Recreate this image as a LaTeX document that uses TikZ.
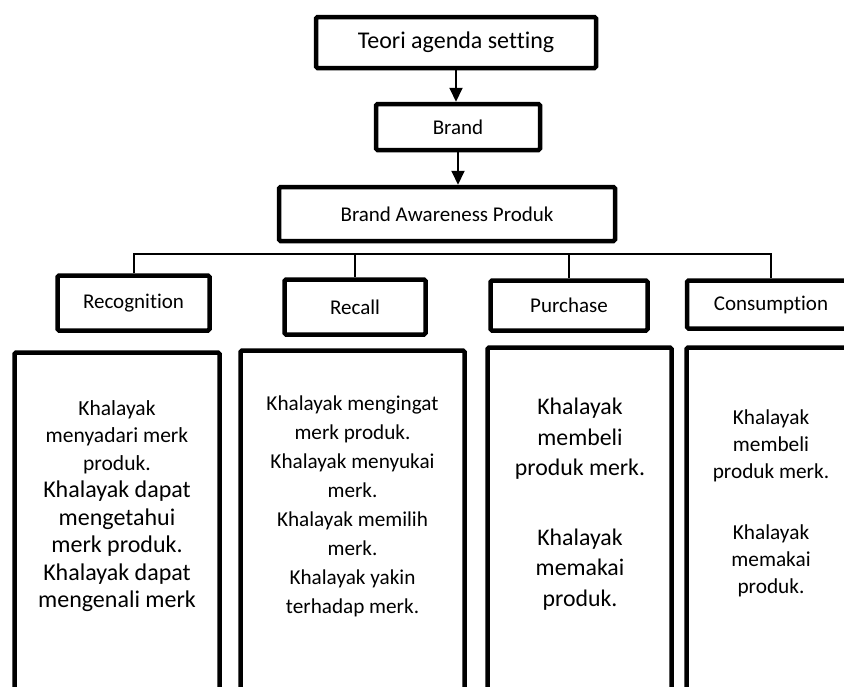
\documentclass[tikz,border=0pt]{standalone}
\usepackage{fontspec}
\setmainfont{Carlito}[Ligatures={NoCommon}]
\usetikzlibrary{arrows.meta,calc}
\newcommand\fsA{\fontsize{21.5}{27.5}\selectfont}
\newcommand\fsB{\fontsize{24}{27.5}\selectfont}
\newcommand\fsC{\fontsize{21.2}{28.9}\selectfont}
\newcommand\fsD{\fontsize{23.8}{30.3}\selectfont}
\newcommand\fsE{\fontsize{21.3}{27}\selectfont}
\begin{document}
\begin{tikzpicture}[x=1pt,y=-1pt,
  box/.style={draw, line width=4.5pt, rounded corners=1.5pt, inner sep=0pt},
  thinline/.style={line width=2pt},
  arr/.style={line width=2pt, -{Triangle[width=13pt,length=14pt]}},
  lbl/.style={font=\fontsize{21}{25}\selectfont},
  body/.style={anchor=north, align=center, inner sep=0pt}
]
\useasboundingbox (0,0) rectangle (844,686);
\clip (0,0) rectangle (844,686);

% top chain
\node[box, minimum width=280pt, minimum height=51pt, font=\fontsize{24}{28}\selectfont] (teori) at (456,42.5) {Teori agenda setting};
\node[box, minimum width=164pt, minimum height=46pt, lbl] (brand) at (458,127) {Brand};
\node[box, minimum width=336pt, minimum height=54pt, lbl] (bap) at (447,214) {Brand Awareness Produk};
\draw[arr] (teori.south) -- (teori.south |- brand.north);
\draw[arr] (brand.south) -- (brand.south |- bap.north);

% second level
\coordinate (bus) at (0,254);
\node[box, minimum width=152pt, minimum height=55pt, lbl] (rec) at (133.5,303) {Recognition};
\node[box, minimum width=141pt, minimum height=55pt, lbl] (recall) at (355,307) {Recall};
\node[box, minimum width=157pt, minimum height=50pt, lbl] (pur) at (569,305.5) {Purchase};
\node[box, minimum width=168pt, minimum height=48pt, lbl] (cons) at (771,304.5) {Consumption};
\draw[thinline] (rec.north) -- (rec.north |- bus) -- (cons.north |- bus) -- (cons.north);
\draw[thinline] (recall.north |- bus) -- (recall.north);
\draw[thinline] (pur.north |- bus) -- (pur.north);

% bottom boxes
\node[box, minimum width=205pt, minimum height=375pt] (d1) at (117,540) {};
\node[box, minimum width=224pt, minimum height=377pt] (d2) at (352.5,539) {};
\node[box, minimum width=184pt, minimum height=380pt] (d3) at (579.5,537.5) {};
\node[box, minimum width=169pt, minimum height=380pt] (d4) at (771,537.5) {};

\node[body, font=\fsB] (t1) at (117,400) {\fsA Khalayak\\\fsA menyadari merk\\\fsA produk.\\\fsB Khalayak dapat\\\fsB mengetahui\\\fsB merk produk.\\\fsB Khalayak dapat\hspace*{0.4em}\\\fsB mengenali merk};
\node[body, font=\fsC] (t2) at (352.5,396) {Khalayak mengingat\\merk produk.\\Khalayak menyukai\\merk.\\Khalayak memilih\\merk.\\Khalayak yakin\\terhadap merk.};
\node[body, font=\fsD] (t3) at (580,398) {Khalayak\\membeli\\produk merk.\\[40pt]Khalayak\\memakai\\produk.};
\node[body, font=\fsE] (t4) at (771,410) {Khalayak\\membeli\\produk merk.\\[34pt]Khalayak\\memakai\\produk.};
\end{tikzpicture}
\end{document}
